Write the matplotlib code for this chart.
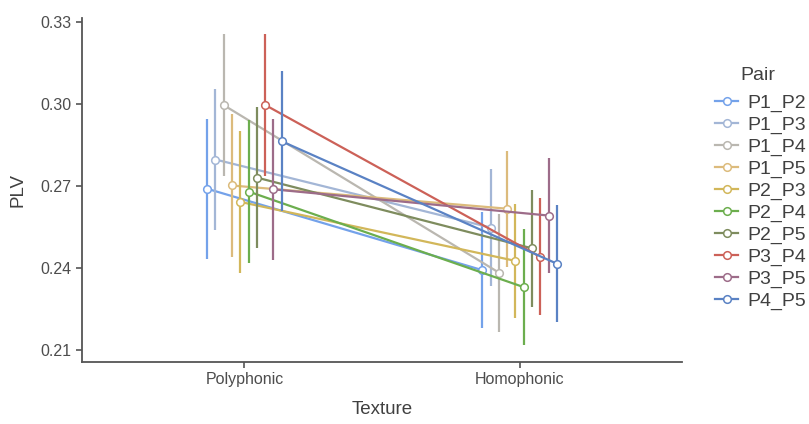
import matplotlib
matplotlib.use("Agg")
import matplotlib.pyplot as plt
from matplotlib.lines import Line2D
import numpy as np

plt.rcParams['font.family'] = ['Liberation Sans', 'DejaVu Sans']

textures = ['Polyphonic', 'Homophonic']
pairs = ['P1_P2', 'P1_P3', 'P1_P4', 'P1_P5', 'P2_P3',
         'P2_P4', 'P2_P5', 'P3_P4', 'P3_P5', 'P4_P5']
colors = ['#74a2ea', '#a3b6d6', '#bab7b0', '#dcbb7c', '#d2b75a',
          '#6cae4e', '#7e8c5e', '#cc6158', '#9d6c89', '#5a82c4']

# mean PLV per pair
poly_mean = [0.2690, 0.2797, 0.2996, 0.2702, 0.2642,
             0.2680, 0.2731, 0.2997, 0.2688, 0.2864]
homo_mean = [0.2392, 0.2548, 0.2383, 0.2617, 0.2426,
             0.2330, 0.2472, 0.2441, 0.2592, 0.2416]
# error bar half widths
poly_err = [0.0257, 0.0259, 0.0259, 0.0260, 0.0259,
            0.0260, 0.0259, 0.0259, 0.0258, 0.0256]
homo_err = [0.0213, 0.0214, 0.0216, 0.0213, 0.0210,
            0.0213, 0.0214, 0.0214, 0.0210, 0.0213]

fig = plt.figure(figsize=(8.09, 4.24), dpi=100)
ax = fig.add_axes([82/809, 1-362/424, 600/809, 344/424])

dodge = 0.03
handles = []
for i, p in enumerate(pairs):
    off = (i - 4.5) * dodge
    xs = np.array([1, 2]) + off
    ys = [poly_mean[i], homo_mean[i]]
    es = [poly_err[i], homo_err[i]]
    c = colors[i]
    ax.errorbar(xs, ys, yerr=es, color=c, lw=1.6, elinewidth=1.6,
                capsize=0, marker='o', markersize=5.5, mfc='white',
                mec=c, mew=1.1, zorder=2 + i * 0.1)
    handles.append(Line2D([], [], color=c, lw=1.6, marker='o',
                          markersize=5.5, mfc='white', mec=c, mew=1.1,
                          label=p))

ax.set_xlim(0.41, 2.59)
ax.set_ylim(0.2056, 0.3315)
ax.set_xticks([1, 2])
ax.set_xticklabels(textures)
ax.set_yticks([0.21, 0.24, 0.27, 0.30, 0.33])
ax.set_yticklabels(['0.21', '0.24', '0.27', '0.30', '0.33'])
ax.tick_params(colors='#555555', labelcolor='#4d4d4d', labelsize=11.5,
               length=4, width=1.2, direction='out')
for s in ['top', 'right']:
    ax.spines[s].set_visible(False)
for s in ['left', 'bottom']:
    ax.spines[s].set_color('#555555')
    ax.spines[s].set_linewidth(1.3)

ax.set_xlabel('Texture', fontsize=13.5, color='#404040', labelpad=10)
ax.set_ylabel('PLV', fontsize=13.5, color='#404040', labelpad=10)

leg = ax.legend(handles=handles, loc='upper left',
                bbox_to_anchor=(715/809, 1-94/424),
                bbox_transform=fig.transFigure, frameon=False,
                fontsize=14, labelspacing=0.22, handlelength=1.2,
                handletextpad=0.45, borderaxespad=0, borderpad=0)
for t in leg.get_texts():
    t.set_color('#404040')
fig.text(740/809, 1-75/424, 'Pair', fontsize=14, color='#404040',
         ha='left', va='center')

fig.savefig('out.png', dpi=100)
